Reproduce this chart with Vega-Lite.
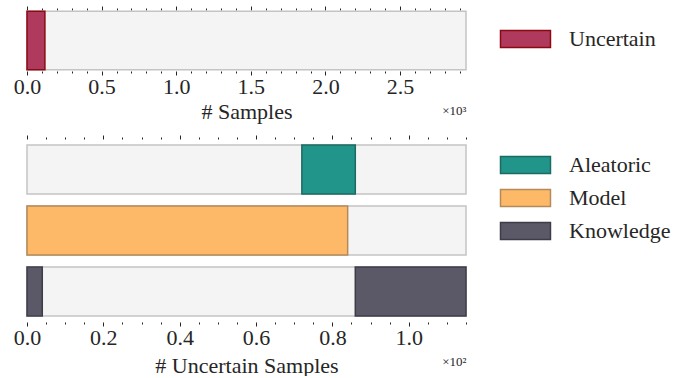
{
  "$schema": "https://vega.github.io/schema/vega-lite/v6.json",
  "background": "white",
  "padding": {"left": 13, "top": 5, "right": 0, "bottom": 0},
  "spacing": 12,
  "config": {
    "view": {"stroke": null},
    "font": "Liberation Serif, DejaVu Serif, serif",
    "axis": {"domain": false, "grid": false, "labelFont": "Liberation Serif, DejaVu Serif, serif", "labelFontSize": 22, "labelColor": "#262626", "tickColor": "#262626", "tickWidth": 1, "titleFont": "Liberation Serif, DejaVu Serif, serif", "titleFontSize": 22, "titleFontWeight": "normal", "titleColor": "#262626", "labelFlush": false, "labelOverlap": false, "labelPadding": 1},
    "legend": {"title": null, "orient": "none", "symbolType": "M-1,-1H4.88V1H-1Z", "symbolSize": 289, "symbolStrokeWidth": 1.5, "symbolOpacity": 1, "labelFont": "Liberation Serif, DejaVu Serif, serif", "labelFontSize": 22, "labelColor": "#262626", "labelOffset": 49, "padding": 0, "rowPadding": 9, "labelLimit": 200}
  },
  "resolve": {"scale": {"x": "independent", "y": "independent", "fill": "independent", "stroke": "independent"}},
  "vconcat": [
    {
      "width": 439,
      "height": 61,
      "layer": [
        {
          "data": {"values": [{"row": "Samples", "start": 0, "end": 2942}]},
          "mark": {"type": "bar", "fill": "#f4f4f4", "stroke": "#c4c4c4", "strokeWidth": 1.5},
          "encoding": {
            "x": {"field": "start", "type": "quantitative", "scale": {"domain": [0, 2942], "nice": false, "zero": false},
              "axis": {"orient": "bottom", "values": [0,100,200,300,400,500,600,700,800,900,1000,1100,1200,1300,1400,1500,1600,1700,1800,1900,2000,2100,2200,2300,2400,2500,2600,2700,2800,2900],
                "labelExpr": "datum.value % 500 === 0 ? format(datum.value/1000, '.1f') : ''",
                "tickSize": {"condition": {"test": "datum.value % 500 === 0", "value": 4}, "value": 2},
                "title": "# Samples", "titlePadding": 4}},
            "x2": {"field": "end"},
            "y": {"field": "row", "type": "nominal", "scale": {"paddingInner": 0, "paddingOuter": 0.02}, "axis": null}
          }
        },
        {
          "data": {"values": [{"row": "Samples", "type": "Uncertain", "start": 0, "end": 120}]},
          "mark": {"type": "bar", "strokeWidth": 1.5},
          "encoding": {
            "x": {"field": "start", "type": "quantitative",
              "axis": {"orient": "top", "values": [0,100,200,300,400,500,600,700,800,900,1000,1100,1200,1300,1400,1500,1600,1700,1800,1900,2000,2100,2200,2300,2400,2500,2600,2700,2800,2900],
                "labels": false,
                "tickSize": {"condition": {"test": "datum.value % 500 === 0", "value": 4}, "value": 2},
                "title": null}},
            "x2": {"field": "end"},
            "y": {"field": "row", "type": "nominal", "axis": null},
            "fill": {"field": "type", "type": "nominal", "scale": {"domain": ["Uncertain"], "range": ["#b03a5e"]}, "legend": {"legendX": 471, "legendY": 18}},
            "stroke": {"field": "type", "type": "nominal", "scale": {"domain": ["Uncertain"], "range": ["#8b0a12"]}, "legend": {"legendX": 471, "legendY": 18}}
          }
        },
        {
          "data": {"values": [{"row": "Samples", "start": 0, "end": 2942}]},
          "mark": {"type": "bar", "opacity": 0},
          "encoding": {
            "x": {"field": "start", "type": "quantitative",
              "axis": {"orient": "bottom", "labels": false, "ticks": false, "title": "×10³", "titleFontSize": 13, "titleAnchor": "end", "titleAlign": "right", "titleBaseline": "top", "titleY": 33}},
            "x2": {"field": "end"},
            "y": {"field": "row", "type": "nominal", "axis": null}
          }
        }
      ],
      "resolve": {"axis": {"x": "independent"}}
    },
    {
      "width": 439,
      "height": 183,
      "layer": [
        {
          "data": {"values": [{"row": "Aleatoric", "start": 0, "end": 115}, {"row": "Model", "start": 0, "end": 115}, {"row": "Knowledge", "start": 0, "end": 115}]},
          "mark": {"type": "bar", "fill": "#f4f4f4", "stroke": "#c4c4c4", "strokeWidth": 1.5},
          "encoding": {
            "x": {"field": "start", "type": "quantitative", "scale": {"domain": [0, 115], "nice": false, "zero": false},
              "axis": {"orient": "bottom", "values": [0,5,10,15,20,25,30,35,40,45,50,55,60,65,70,75,80,85,90,95,100,105,110,115],
                "labelExpr": "datum.value % 20 === 0 ? format(datum.value/100, '.1f') : ''",
                "tickSize": {"condition": {"test": "datum.value % 20 === 0", "value": 4}, "value": 2},
                "title": "# Uncertain Samples", "titlePadding": 7}},
            "x2": {"field": "end"},
            "y": {"field": "row", "type": "nominal", "sort": ["Aleatoric", "Model", "Knowledge"], "scale": {"paddingInner": 0.2, "paddingOuter": 0.1}, "axis": null}
          }
        },
        {
          "data": {"values": [
            {"row": "Aleatoric", "type": "Aleatoric", "start": 72, "end": 86},
            {"row": "Model", "type": "Model", "start": 0, "end": 84},
            {"row": "Knowledge", "type": "Knowledge", "start": 0, "end": 4},
            {"row": "Knowledge", "type": "Knowledge", "start": 86, "end": 115}
          ]},
          "mark": {"type": "bar", "strokeWidth": 1.5},
          "encoding": {
            "x": {"field": "start", "type": "quantitative",
              "axis": {"orient": "top", "values": [0,5,10,15,20,25,30,35,40,45,50,55,60,65,70,75,80,85,90,95,100,105,110,115],
                "labels": false,
                "tickSize": {"condition": {"test": "datum.value % 20 === 0", "value": 4}, "value": 2},
                "title": null}},
            "x2": {"field": "end"},
            "y": {"field": "row", "type": "nominal", "sort": ["Aleatoric", "Model", "Knowledge"], "axis": null},
            "fill": {"field": "type", "type": "nominal", "scale": {"domain": ["Aleatoric", "Model", "Knowledge"], "range": ["#21958a", "#fdb968", "#5b5867"]}, "legend": {"legendX": 471, "legendY": 15}},
            "stroke": {"field": "type", "type": "nominal", "scale": {"domain": ["Aleatoric", "Model", "Knowledge"], "range": ["#1b6b62", "#b58a5a", "#3f3c48"]}, "legend": {"legendX": 471, "legendY": 15}}
          }
        },
        {
          "data": {"values": [{"row": "Aleatoric", "start": 0, "end": 115}]},
          "mark": {"type": "bar", "opacity": 0},
          "encoding": {
            "x": {"field": "start", "type": "quantitative",
              "axis": {"orient": "bottom", "labels": false, "ticks": false, "title": "×10²", "titleFontSize": 13, "titleAnchor": "end", "titleAlign": "right", "titleBaseline": "top", "titleY": 33}},
            "x2": {"field": "end"},
            "y": {"field": "row", "type": "nominal", "sort": ["Aleatoric", "Model", "Knowledge"], "axis": null}
          }
        }
      ],
      "resolve": {"axis": {"x": "independent"}}
    }
  ]
}
